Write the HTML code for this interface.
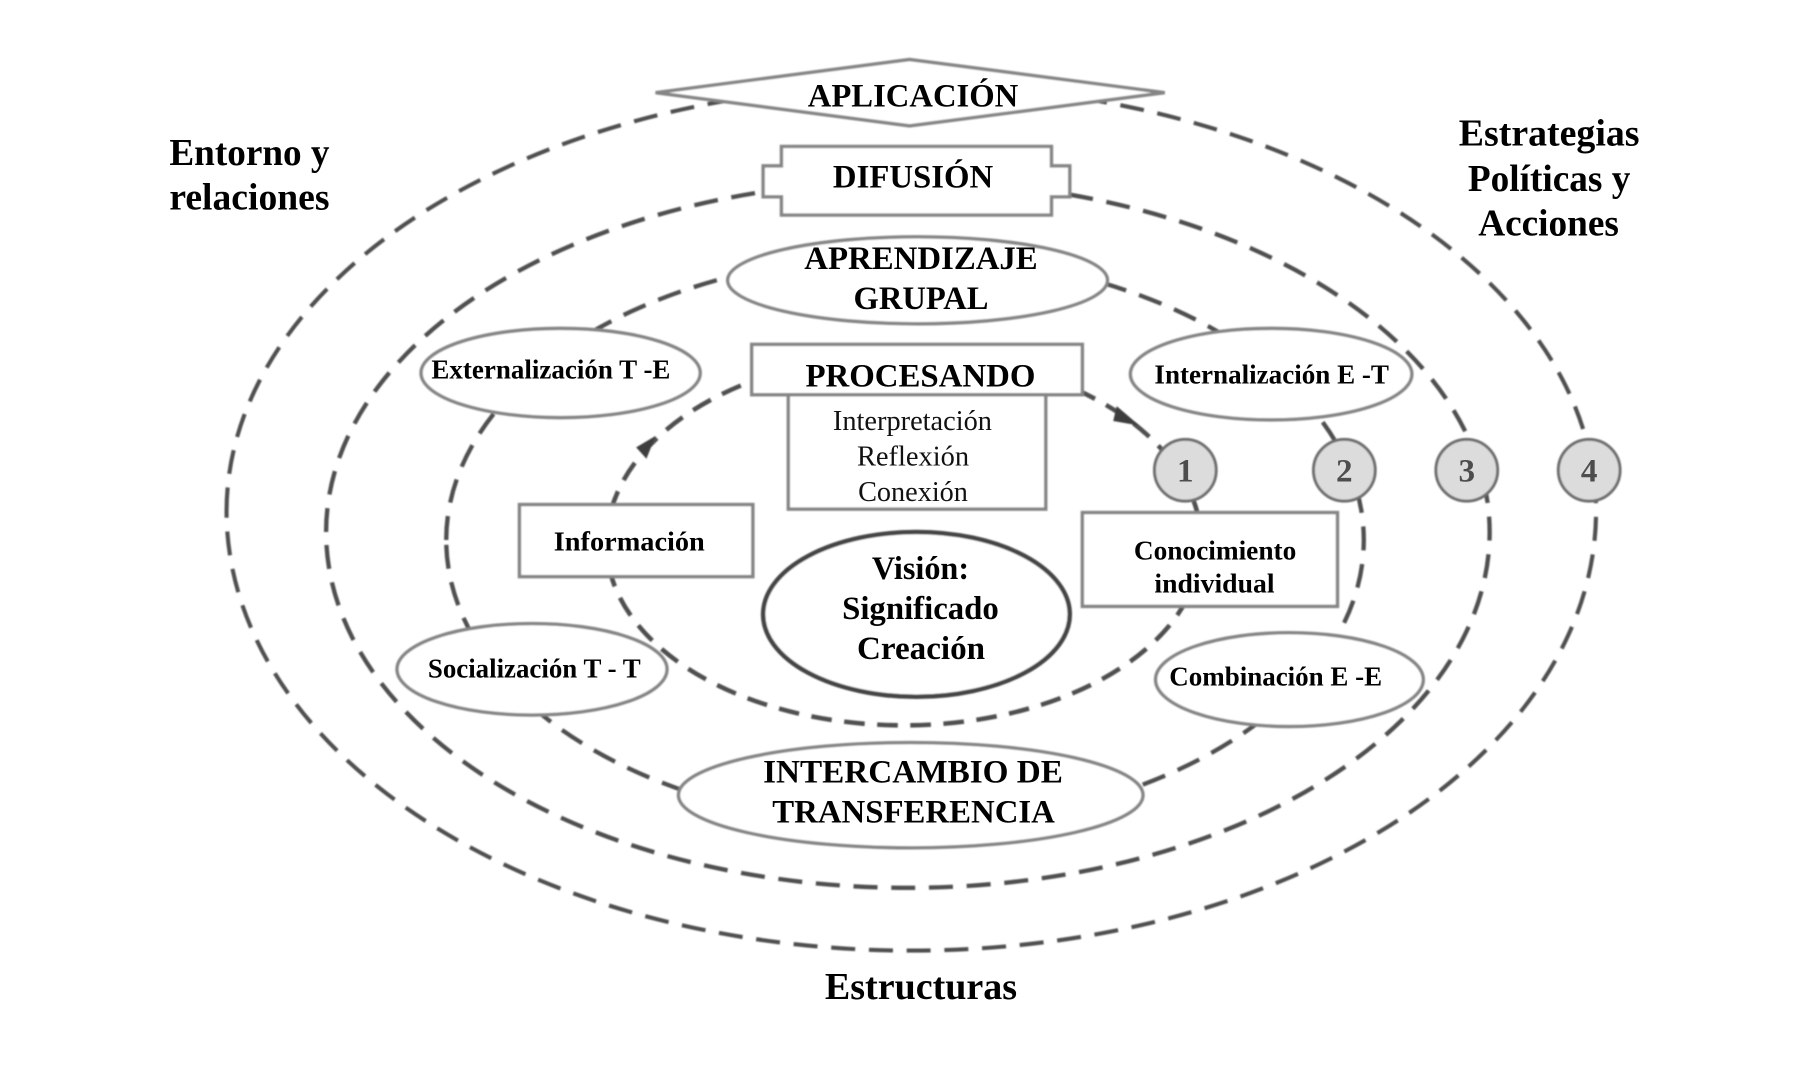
<!DOCTYPE html>
<html lang="es">
<head>
<meta charset="utf-8">
<title>Diagrama</title>
<style>
html,body{margin:0;padding:0;background:#fff;width:1794px;height:1067px;overflow:hidden}
svg{display:block}
text{font-family:"Liberation Serif",serif;font-weight:bold;fill:#000}
.r{font-weight:normal;fill:#111}
.d{fill:none;stroke:#505050;stroke-linecap:butt}
.s{fill:#fff;stroke:#858585;stroke-width:3}
.c{fill:#dcdcdc;stroke:#6e6e6e;stroke-width:2.6}
.n{font-size:29px;fill:#4d4d4d;text-anchor:middle}
</style>
</head>
<body>
<svg width="1794" height="1067" viewBox="0 0 1568 932.6" xmlns="http://www.w3.org/2000/svg">
<defs><filter id="b" x="-5%" y="-5%" width="110%" height="110%"><feGaussianBlur stdDeviation="0.6"/></filter></defs>
<rect width="1568" height="933" fill="#fff"/>
<g filter="url(#b)">
<path class="d" d="M198 447 A598.5 373 0 0 1 1395 447 A598.5 384 0 0 1 198 447 Z" stroke-width="3.6" stroke-dasharray="21 12"/>
<path class="d" d="M285 465 A508.5 307 0 0 1 1302 465 A508.5 311 0 0 1 285 465 Z" stroke-width="3.8" stroke-dasharray="21 12"/>
<path class="d" d="M390 472 A401 249 0 0 1 1192 472 A401 250 0 0 1 390 472 Z" stroke-width="3.8" stroke-dasharray="21 12"/>
<path class="d" d="M530 475 A260 165 0 0 1 1050 475 A260 159 0 0 1 530 475 Z" stroke-width="4" stroke-dasharray="18 11"/>
<polygon points="573,381 556,391 565,401" fill="#3c3c3c"/>
<polygon points="996,372 976,355 973,368" fill="#3c3c3c"/>

<polygon class="s" points="573,81 795,52 1018,81 795,110"/>
<polygon class="s" points="683,128 919,128 919,145 935,145 935,172 919,172 919,188 683,188 683,172 667,172 667,145 683,145"/>
<ellipse class="s" cx="802" cy="245" rx="166" ry="38"/>
<ellipse class="s" cx="490" cy="326" rx="122" ry="39"/>
<ellipse class="s" cx="1111" cy="327" rx="123" ry="40"/>
<rect class="s" x="689" y="345" width="225" height="100"/>
<rect class="s" x="657" y="301" width="289" height="44"/>
<rect class="s" x="454" y="441" width="204" height="63"/>
<rect class="s" x="946" y="448" width="223" height="82"/>
<ellipse cx="801" cy="537" rx="134" ry="72" fill="#fff" stroke="#444" stroke-width="4"/>
<ellipse class="s" cx="465" cy="585" rx="118" ry="40"/>
<ellipse class="s" cx="1127" cy="594" rx="117" ry="41"/>
<ellipse class="s" cx="796" cy="695" rx="203" ry="46"/>
<circle class="c" cx="1036" cy="411" r="27"/>
<circle class="c" cx="1175" cy="411" r="27"/>
<circle class="c" cx="1282" cy="411" r="27"/>
<circle class="c" cx="1389" cy="411" r="27"/>
</g>
<text class="n" x="1036" y="421">1</text>
<text class="n" x="1175" y="421">2</text>
<text class="n" x="1282" y="421">3</text>
<text class="n" x="1389" y="421">4</text>

<g font-size="29">
<text x="706" y="93" textLength="184" lengthAdjust="spacingAndGlyphs">APLICACIÓN</text>
<text x="728" y="164" textLength="140" lengthAdjust="spacingAndGlyphs">DIFUSIÓN</text>
<text x="703" y="235" textLength="204" lengthAdjust="spacingAndGlyphs">APRENDIZAJE</text>
<text x="746" y="270" textLength="118" lengthAdjust="spacingAndGlyphs">GRUPAL</text>
<text x="704" y="338" textLength="201" lengthAdjust="spacingAndGlyphs">PROCESANDO</text>
<text x="762" y="506" textLength="85" lengthAdjust="spacingAndGlyphs">Visión:</text>
<text x="736" y="541" textLength="137" lengthAdjust="spacingAndGlyphs">Significado</text>
<text x="749" y="576" textLength="112" lengthAdjust="spacingAndGlyphs">Creación</text>
<text x="667" y="684" textLength="262" lengthAdjust="spacingAndGlyphs">INTERCAMBIO DE</text>
<text x="675" y="719" textLength="247" lengthAdjust="spacingAndGlyphs">TRANSFERENCIA</text>
</g>
<g font-size="25">
<text class="r" x="728" y="376" textLength="139" lengthAdjust="spacingAndGlyphs">Interpretación</text>
<text class="r" x="749" y="407" textLength="98" lengthAdjust="spacingAndGlyphs">Reflexión</text>
<text class="r" x="750" y="438" textLength="96" lengthAdjust="spacingAndGlyphs">Conexión</text>
</g>
<g font-size="24">
<text x="377" y="331" textLength="209" lengthAdjust="spacingAndGlyphs">Externalización T -E</text>
<text x="1009" y="335" textLength="205" lengthAdjust="spacingAndGlyphs">Internalización E -T</text>
<text x="484" y="481" textLength="132" lengthAdjust="spacingAndGlyphs">Información</text>
<text x="991" y="489" textLength="142" lengthAdjust="spacingAndGlyphs">Conocimiento</text>
<text x="1009" y="518" textLength="105" lengthAdjust="spacingAndGlyphs">individual</text>
<text x="374" y="592" textLength="186" lengthAdjust="spacingAndGlyphs">Socialización T - T</text>
<text x="1022" y="599" textLength="186" lengthAdjust="spacingAndGlyphs">Combinación E -E</text>
</g>
<g font-size="33">
<text x="721" y="873" textLength="168" lengthAdjust="spacingAndGlyphs">Estructuras</text>
<text x="148" y="144" textLength="140" lengthAdjust="spacingAndGlyphs">Entorno y</text>
<text x="148" y="183" textLength="140" lengthAdjust="spacingAndGlyphs">relaciones</text>
<text x="1275" y="127" textLength="158" lengthAdjust="spacingAndGlyphs">Estrategias</text>
<text x="1283" y="167" textLength="142" lengthAdjust="spacingAndGlyphs">Políticas y</text>
<text x="1292" y="206" textLength="123" lengthAdjust="spacingAndGlyphs">Acciones</text>
</g>
</svg>
</body>
</html>
